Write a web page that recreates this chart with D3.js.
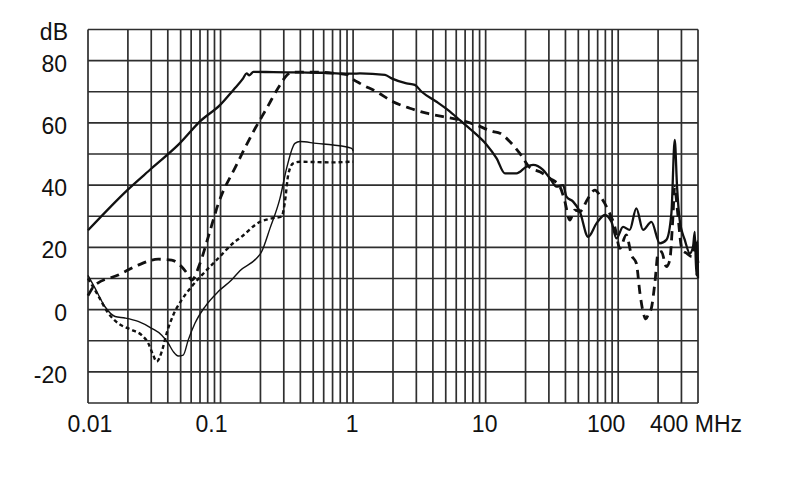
<!DOCTYPE html>
<html><head><meta charset="utf-8">
<script src="https://cdn.jsdelivr.net/npm/d3@7"></script>
<style>
html,body{margin:0;padding:0;background:#fff;}
svg{display:block;}
text{font-family:"Liberation Sans",Arial,sans-serif;fill:#111;}
</style></head>
<body><svg id="chart" width="790" height="499"></svg>
<script>
// ---- data ----
const xDomain = [0.01, 400];
const yDomain = [-30, 90];
const gridFreqs = [];
[0.01, 0.1, 1, 10].forEach(d => { for (let m = 1; m <= 9; m++) gridFreqs.push(+(d * m).toPrecision(3)); });
[100, 200, 300, 400].forEach(v => gridFreqs.push(v));
const gridDb = [-30, -20, -10, 0, 10, 20, 30, 40, 50, 60, 70, 80, 90];
const yLabelValues = [-20, 0, 20, 40, 60, 80];
const xLabelValues = [0.01, 0.1, 1, 10, 100, 400];
const xLabelTexts = ["0.01", "0.1", "1", "10", "100", "400 MHz"];
const yUnit = "dB";

const solidThick = [[0.01,25.5],[0.0199,38.5],[0.0304,45.5],[0.0494,53.5],[0.07,60.5],[0.0989,65.7],[0.125,70.6],[0.148,74.3],[0.157,75.9],[0.165,75.3],[0.177,76.4],[0.25,76.3],[0.4,76.2],[0.6,76.1],[0.8,75.8],[1.0,75.8],[1.125,75.9],[1.74,75.4],[1.95,74.3],[2.53,72.7],[2.92,72.2],[3.29,70],[4.26,66.8],[5.21,64.1],[6.39,60.9],[8.05,57.2],[10.2,52.9],[12.1,48.6],[13.96,43.8],[17.1,43.8],[20.3,45.9],[22.8,46.5],[27.1,44.9],[30.5,42.2],[34.3,39.5],[38.4,40],[40.7,36.3],[45.7,34.7],[51.3,31.5],[59.3,23.4],[68.6,27.7],[79.2,30.4],[88.9,28.2],[97,22.9],[108.8,26.6],[122,25.6],[137,32.5],[154,25.6],[178,28.2],[206,21.3],[231,22.4],[252,31],[267,54.5],[278,39.5],[291,28.8],[318,22.4],[347,18.1],[367,20.2],[378,25],[389,11],[395,22],[400,10]];
const dashedThick = [[0.01,4.5],[0.0113,7.9],[0.0169,11.1],[0.0239,14.3],[0.0339,16.2],[0.0428,15.9],[0.0509,13.8],[0.0571,11.1],[0.0605,9.5],[0.07,14.9],[0.0808,23.4],[0.0961,34],[0.132,46.5],[0.177,57.2],[0.223,64.7],[0.281,72.2],[0.315,75.2],[0.35,76.3],[0.5,76.3],[0.7,76],[0.9,75.5],[1.0,74],[1.125,72.7],[1.5,70],[2.0,66.8],[2.68,64.7],[3.58,63.1],[4.78,62],[6.39,61],[8.5,59.3],[11.4,57.2],[12.8,56.7],[15.2,54],[18.1,50.2],[21.6,45.6],[25.6,44.3],[30.5,42.2],[36.3,39.5],[39.6,34.7],[43.1,28.8],[47.1,32],[51.3,31.5],[59.3,35.8],[66.6,38.4],[74.8,35.8],[84,32],[94.3,26.6],[103,19.7],[115,24],[126,17.5],[137,14.9],[146,5.2],[154,-0.7],[162,-3],[168,-1.7],[178,0.5],[189,8.5],[200,18.1],[212,18.6],[231,13.8],[245,15.9],[258,28.8],[267,39.5],[278,33.1],[304,19.1],[329,18.1],[360,17],[380,20],[400,15]];
const solidThin = [[0.01,11],[0.0113,6.9],[0.0134,1.0],[0.016,-2.2],[0.019,-2.7],[0.0239,-3.8],[0.0302,-6.0],[0.036,-8.2],[0.0403,-10.8],[0.044,-13.5],[0.048,-14.9],[0.0523,-14.6],[0.057,-9.8],[0.0641,-4.4],[0.0762,0.9],[0.0961,5.8],[0.121,9.5],[0.14,12.5],[0.187,16.5],[0.204,18.6],[0.236,26.1],[0.281,35.8],[0.315,45.4],[0.364,53.4],[0.397,54],[0.53,53.4],[0.708,52.9],[0.975,51.8],[1,51]];
const dottedMed = [[0.01,10],[0.012,4.3],[0.0142,-1.1],[0.0169,-4.4],[0.0213,-6.5],[0.0254,-8.2],[0.0285,-10.8],[0.031,-14.6],[0.033,-16.7],[0.036,-13.5],[0.0392,-7.6],[0.044,-1.7],[0.0509,3.1],[0.0605,7.4],[0.072,11],[0.0961,16.5],[0.128,21.8],[0.14,23],[0.198,28.2],[0.243,29.3],[0.289,29.9],[0.306,34.7],[0.324,43.3],[0.353,47],[0.397,47.5],[0.708,47.3],[0.975,47.5],[1,47.5]];

// ---- drawing ----
const svg = d3.select("#chart");
const x = d3.scaleLog().domain(xDomain).range([88, 698]);
const y = d3.scaleLinear().domain(yDomain).range([403, 29.5]);
const gridColor = "#2e2e2e";

const g = svg.append("g");
g.selectAll("line.v").data(gridFreqs).join("line")
  .attr("x1", d => x(d)).attr("x2", d => x(d))
  .attr("y1", y(yDomain[0])).attr("y2", y(yDomain[1]))
  .attr("stroke", gridColor).attr("stroke-width", 1.7);
g.selectAll("line.h").data(gridDb).join("line")
  .attr("x1", x(xDomain[0])).attr("x2", x(xDomain[1]))
  .attr("y1", d => y(d)).attr("y2", d => y(d))
  .attr("stroke", gridColor).attr("stroke-width", 1.7);

const line = d3.line().x(d => x(d[0])).y(d => y(d[1])).curve(d3.curveMonotoneX);
const series = [
  {data: solidThick, w: 2.3, dash: null},
  {data: dashedThick, w: 2.8, dash: "9,6"},
  {data: solidThin, w: 1.4, dash: null},
  {data: dottedMed, w: 2.4, dash: "4,3"}
];
series.forEach(s => {
  svg.append("path").datum(s.data).attr("d", line)
    .attr("fill", "none").attr("stroke", "#111")
    .attr("stroke-width", s.w).attr("stroke-dasharray", s.dash)
    .attr("stroke-linejoin", "round");
});

// y labels
svg.selectAll("text.yl").data(yLabelValues).join("text")
  .attr("x", 67).attr("y", d => y(d) + 11)
  .attr("text-anchor", "end").attr("font-size", 23).text(d => d);
svg.append("text").attr("x", 68).attr("y", 40).attr("text-anchor", "end")
  .attr("font-size", 23).text(yUnit);

// x labels
const xLabelShift = {0.01: 2, 0.1: -9, 1: -1, 10: -1, 100: -12, 400: -2};
svg.selectAll("text.xl").data(xLabelValues).join("text")
  .attr("x", d => x(d) + xLabelShift[d]).attr("y", 432)
  .attr("text-anchor", "middle").attr("font-size", 23)
  .text((d, i) => xLabelTexts[i]);
</script></body></html>
